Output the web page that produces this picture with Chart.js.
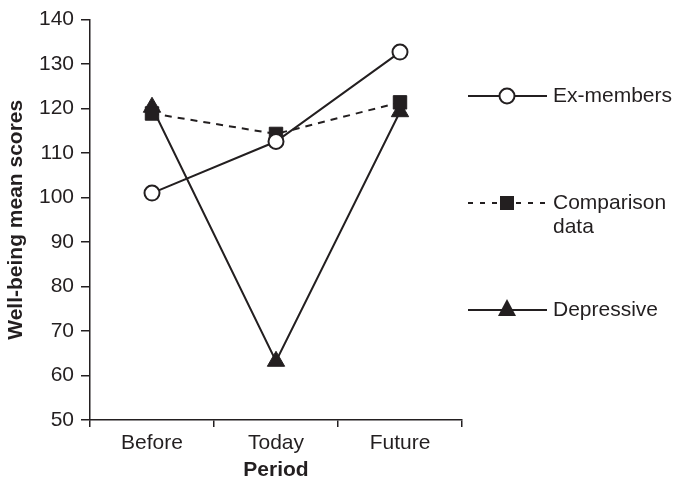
<!DOCTYPE html>
<html lang="en">
<head>
  <meta charset="UTF-8">
  <title>Well-being mean scores by period</title>
  <script src="https://cdn.jsdelivr.net/npm/chart.js"></script>
  <style>
    body { margin: 0; padding: 0; background: #fff; }
    .wrap { width: 675px; height: 479px; }
  </style>
</head>
<body>
  <div class="wrap"><canvas id="wellChart" width="675" height="479"></canvas></div>

  <script>
    const periods = ["Before", "Today", "Future"];
    const exMembers = [101, 112.6, 132.7];
    const comparison = [118.9, 114.3, 121.4];
    const depressive = [120.3, 63.2, 119.3];
    const yTicks = [50, 60, 70, 80, 90, 100, 110, 120, 130, 140];

    const ink = '#231f20';
    const font = "'Liberation Sans', Arial, sans-serif";

    // legend drawn by hand: line - marker - line, then label
    const sideLegend = {
      id: 'sideLegend',
      afterDraw(chart) {
        const ctx = chart.ctx;
        const items = [
          { text: ['Ex-members'], y: 96, dash: [], marker: 'circle' },
          { text: ['Comparison', 'data'], y: 203, dash: [5, 7], marker: 'rect' },
          { text: ['Depressive'], y: 310, dash: [], marker: 'triangle' }
        ];
        ctx.save();
        items.forEach(it => {
          ctx.strokeStyle = ink;
          ctx.lineWidth = 2;
          ctx.setLineDash(it.dash);
          ctx.beginPath();
          ctx.moveTo(468, it.y);
          ctx.lineTo(547, it.y);
          ctx.stroke();
          ctx.setLineDash([]);
          const mx = 507;
          ctx.beginPath();
          if (it.marker === 'circle') {
            ctx.arc(mx, it.y, 7.5, 0, Math.PI * 2);
            ctx.fillStyle = '#fff';
            ctx.fill();
            ctx.stroke();
          } else if (it.marker === 'rect') {
            ctx.fillStyle = ink;
            ctx.fillRect(mx - 7, it.y - 7, 14, 14);
          } else {
            ctx.moveTo(mx, it.y - 11);
            ctx.lineTo(mx + 9, it.y + 6);
            ctx.lineTo(mx - 9, it.y + 6);
            ctx.closePath();
            ctx.fillStyle = ink;
            ctx.fill();
          }
          ctx.fillStyle = ink;
          ctx.font = '21px ' + font;
          ctx.textBaseline = 'middle';
          ctx.textAlign = 'left';
          it.text.forEach((t, i) => ctx.fillText(t, 553, it.y + i * 24));
        });
        ctx.restore();
      }
    };

    new Chart(document.getElementById('wellChart'), {
      type: 'line',
      data: {
        labels: periods,
        datasets: [
          {
            label: 'Ex-members',
            data: exMembers,
            borderColor: ink,
            borderWidth: 2,
            pointStyle: 'circle',
            pointRadius: 7.5,
            pointBackgroundColor: '#fff',
            pointBorderColor: ink,
            pointBorderWidth: 2
          },
          {
            label: 'Comparison data',
            data: comparison,
            borderColor: ink,
            borderWidth: 2,
            borderDash: [7, 6],
            pointStyle: 'rect',
            pointRadius: 9.5,
            pointBackgroundColor: ink,
            pointBorderColor: ink,
            pointBorderWidth: 1
          },
          {
            label: 'Depressive',
            data: depressive,
            borderColor: ink,
            borderWidth: 2,
            pointStyle: 'triangle',
            pointRadius: 10,
            pointBackgroundColor: ink,
            pointBorderColor: ink,
            pointBorderWidth: 1
          }
        ]
      },
      options: {
        responsive: false,
        animation: false,
        layout: { padding: { top: 19, right: 213, bottom: 0, left: 0 } },
        plugins: {
          legend: { display: false },
          tooltip: { enabled: false }
        },
        scales: {
          x: {
            offset: true,
            afterFit: s => { s.height = 59; },
            grid: { offset: true, drawOnChartArea: false, tickLength: 7, color: ink, lineWidth: 1.5 },
            border: { display: true, color: ink, width: 1.5 },
            ticks: { color: ink, font: { family: font, size: 21 }, padding: 4 },
            title: { display: true, text: 'Period', color: ink, font: { family: font, size: 21, weight: 'bold' }, padding: { top: 0, bottom: -4 } }
          },
          y: {
            min: 50,
            max: 140,
            afterFit: s => { s.width = 90; },
            afterBuildTicks: axis => { axis.ticks = yTicks.map(v => ({ value: v })); },
            grid: { drawOnChartArea: false, tickLength: 9, color: ink, lineWidth: 1.5 },
            border: { display: true, color: ink, width: 1.5 },
            ticks: { color: ink, font: { family: font, size: 21 }, padding: 7 },
            title: { display: true, text: 'Well-being mean scores', color: ink, font: { family: font, size: 21, weight: 'bold' }, padding: { top: 4, bottom: 0 } }
          }
        }
      },
      plugins: [sideLegend]
    });
  </script>
</body>
</html>
